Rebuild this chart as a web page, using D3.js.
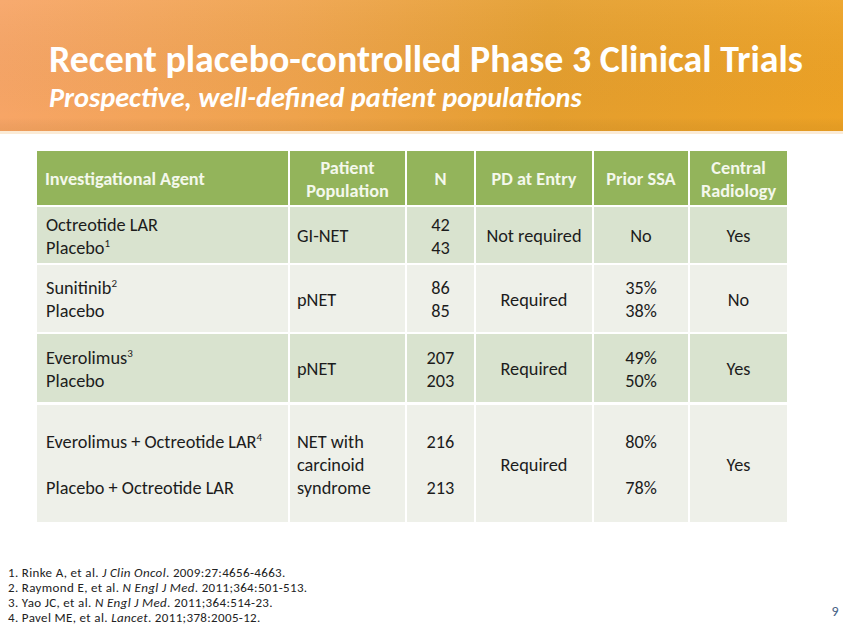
<!DOCTYPE html>
<html>
<head>
<meta charset="utf-8">
<script src="https://cdn.jsdelivr.net/npm/d3@7"></script>
<style>
  html, body { margin: 0; padding: 0; background: #ffffff; }
  svg { display: block; }
  text { font-family: Carlito, Lato, "Open Sans", sans-serif; }
</style>
</head>
<body>
<svg id="chart" width="843" height="627"></svg>
<script>
// ---------------- DATA ----------------
const title = "Recent placebo-controlled Phase 3 Clinical Trials";
const subtitle = "Prospective, well-defined patient populations";
const columns = [["Investigational Agent"], ["Patient", "Population"], ["N"], ["PD at Entry"], ["Prior SSA"], ["Central", "Radiology"]];
const agentLines = [["Octreotide LAR", "Placebo"], ["Sunitinib", "Placebo"], ["Everolimus", "Placebo"], ["Everolimus + Octreotide LAR", "Placebo + Octreotide LAR"]];
const agentRefs = [[null, "1"], ["2", null], ["3", null], ["4", null]];
const populations = [["GI-NET"], ["pNET"], ["pNET"], ["NET with", "carcinoid", "syndrome"]];
const nValues = [[42, 43], [86, 85], [207, 203], [216, 213]];
const pdAtEntry = [["Not required"], ["Required"], ["Required"], ["Required"]];
const priorSSA = [["No"], ["35%", "38%"], ["49%", "50%"], ["80%", "78%"]];
const centralRadiology = [["Yes"], ["No"], ["Yes"], ["Yes"]];
const references = [
  [["1. Rinke A, et al. ", false], ["J Clin Oncol", true], [". 2009:27:4656-4663.", false]],
  [["2. Raymond E, et al. ", false], ["N Engl J Med", true], [". 2011;364:501-513.", false]],
  [["3. Yao JC, et al. ", false], ["N Engl J Med", true], [". 2011;364:514-23.", false]],
  [["4. Pavel ME, et al. ", false], ["Lancet", true], [". 2011;378:2005-12.", false]]
];
const pageNumber = "9";

// ---------------- LAYOUT ----------------
const svg = d3.select("#chart");
const W = 843;

function fitWidth(sel, target) {
  const node = sel.node();
  const w = node.getComputedTextLength();
  const fs = parseFloat(sel.attr("font-size"));
  if (w > 0) sel.attr("font-size", fs * target / w);
}

// Header band
const defs = svg.append("defs");
const grad = defs.append("linearGradient").attr("id", "hdr").attr("x1", "0").attr("x2", "1").attr("y1", "0").attr("y2", "0");
grad.append("stop").attr("offset", "0").attr("stop-color", "#F7A566");
grad.append("stop").attr("offset", "0.35").attr("stop-color", "#EFA34C");
grad.append("stop").attr("offset", "0.65").attr("stop-color", "#E49E2E");
grad.append("stop").attr("offset", "1").attr("stop-color", "#EDA225");
const gradV = defs.append("linearGradient").attr("id", "hdrShade").attr("x1", "0").attr("x2", "0").attr("y1", "0").attr("y2", "1");
gradV.append("stop").attr("offset", "0").attr("stop-color", "#ffffff").attr("stop-opacity", 0.06);
gradV.append("stop").attr("offset", "0.9").attr("stop-color", "#000000").attr("stop-opacity", 0.0);
gradV.append("stop").attr("offset", "1").attr("stop-color", "#7a4a00").attr("stop-opacity", 0.08);

svg.append("rect").attr("x", 0).attr("y", 0).attr("width", W).attr("height", 131).attr("fill", "url(#hdr)");
svg.append("rect").attr("x", 0).attr("y", 0).attr("width", W).attr("height", 131).attr("fill", "url(#hdrShade)");
svg.append("rect").attr("x", 0).attr("y", 131).attr("width", W).attr("height", 3).attr("fill", "#FBEBD6");

const t1 = svg.append("text").attr("x", 49).attr("y", 72).attr("font-size", 31).attr("font-weight", "bold")
  .attr("fill", "#ffffff").text(title);
fitWidth(t1, 754);
const t2 = svg.append("text").attr("x", 49).attr("y", 107).attr("font-size", 21).attr("font-weight", "bold")
  .attr("font-style", "italic").attr("fill", "#ffffff").text(subtitle);
fitWidth(t2, 533);

// Table geometry
const colEdges = [37, 289, 406, 475, 593, 689, 788];
const headerBand = [151, 205];
const rowBands = [[207, 263], [265, 332], [334, 402], [405, 522]];
const lineH = 23;
const headerFill = "#93B45B";
const rowFills = ["#D9E3CF", "#EEF0E9", "#D9E3CF", "#EEF0E9"];
const bodyFont = 18.3;
const headFont = 18.3;

const table = svg.append("g");

// Header cells
table.selectAll("rect.hcell").data(columns).join("rect")
  .attr("class", "hcell")
  .attr("x", (d, i) => colEdges[i] + (i === 0 ? 0 : 1))
  .attr("y", headerBand[0])
  .attr("width", (d, i) => colEdges[i + 1] - colEdges[i] - (i === 0 ? 1 : 2))
  .attr("height", headerBand[1] - headerBand[0])
  .attr("fill", headerFill);

// Body cells
rowBands.forEach((band, r) => {
  table.selectAll(null).data(columns).join("rect")
    .attr("x", (d, i) => colEdges[i] + (i === 0 ? 0 : 1))
    .attr("y", band[0])
    .attr("width", (d, i) => colEdges[i + 1] - colEdges[i] - (i === 0 ? 1 : 2))
    .attr("height", band[1] - band[0])
    .attr("fill", rowFills[r]);
});

// Header texts
columns.forEach((lines, i) => {
  const cy = (headerBand[0] + headerBand[1]) / 2 + 1;
  const left = i === 0;
  const x = left ? colEdges[i] + 8 : (colEdges[i] + colEdges[i + 1]) / 2;
  lines.forEach((ln, k) => {
    const y = cy + (k - (lines.length - 1) / 2) * lineH + headFont * 0.34;
    table.append("text").attr("x", x).attr("y", y)
      .attr("text-anchor", left ? "start" : "middle")
      .attr("font-size", headFont).attr("font-weight", "bold")
      .attr("fill", "#F4F8EC").text(ln);
  });
});

// Body texts
function drawCell(r, c, lines, refs, nRowLines, align) {
  const band = rowBands[r];
  const cy = (band[0] + band[1]) / 2 + 1;
  const n = lines.length;
  let offsets;
  if (n === 1) offsets = [0];
  else if (n === nRowLines) offsets = lines.map((d, k) => (k - (n - 1) / 2) * lineH);
  else offsets = lines.map((d, k) => (k === 0 ? -1 : 1) * (nRowLines - 1) / 2 * lineH);
  const x = align === "start" ? colEdges[c] + (c === 0 ? 9 : 8) : (colEdges[c] + colEdges[c + 1]) / 2;
  lines.forEach((ln, k) => {
    const t = table.append("text").attr("x", x).attr("y", cy + offsets[k] + bodyFont * 0.34)
      .attr("text-anchor", align).attr("font-size", bodyFont).attr("fill", "#1c1c1c");
    t.append("tspan").text(String(ln));
    if (refs && refs[k]) {
      t.append("tspan").attr("font-size", bodyFont * 0.6).attr("dy", -7).text(refs[k]);
    }
  });
}

rowBands.forEach((band, r) => {
  const nRowLines = Math.max(agentLines[r].length, populations[r].length, nValues[r].length, priorSSA[r].length);
  drawCell(r, 0, agentLines[r], agentRefs[r], nRowLines, "start");
  drawCell(r, 1, populations[r], null, nRowLines, "start");
  drawCell(r, 2, nValues[r], null, nRowLines, "middle");
  drawCell(r, 3, pdAtEntry[r], null, nRowLines, "middle");
  drawCell(r, 4, priorSSA[r], null, nRowLines, "middle");
  drawCell(r, 5, centralRadiology[r], null, nRowLines, "middle");
});

// References
const refG = svg.append("g");
references.forEach((parts, i) => {
  const t = refG.append("text").attr("x", 8).attr("y", 576.5 + i * 15.2)
    .attr("font-size", 13).attr("letter-spacing", 0.35).attr("fill", "#222222");
  parts.forEach(p => {
    t.append("tspan").attr("font-style", p[1] ? "italic" : "normal").text(p[0]);
  });
});

// Page number
svg.append("text").attr("x", 835).attr("y", 616).attr("text-anchor", "middle")
  .attr("font-size", 14).attr("fill", "#4A6488").text(pageNumber);
</script>
</body>
</html>
